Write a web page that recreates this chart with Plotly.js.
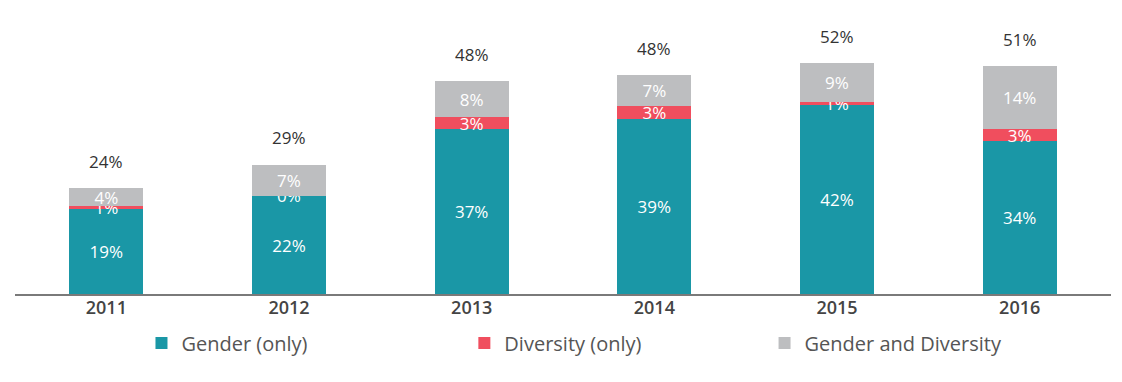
<!DOCTYPE html>
<html>
<head>
<meta charset="utf-8">
<script src="https://cdn.plot.ly/plotly-3.0.1.min.js"></script>
<style>html,body{margin:0;padding:0;background:#fff;}#chart{width:1122px;height:382px;}</style>
</head>
<body>
<div id="chart"></div>
<script>
var years = ['2011', '2012', '2013', '2014', '2015', '2016'];
var genderOnly = [19, 21.8, 36.7, 39, 42, 34];
var diversityOnly = [0.5, 0.1, 2.7, 2.8, 0.7, 2.7];
var genderAndDiversity = [4, 6.9, 8, 6.9, 8.7, 14];
var genderLabels = ['19%', '22%', '37%', '39%', '42%', '34%'];
var diversityLabels = ['1%', '0%', '3%', '3%', '1%', '3%'];
var bothLabels = ['4%', '7%', '8%', '7%', '9%', '14%'];
var totalLabels = ['24%', '29%', '48%', '48%', '52%', '51%'];

var FONT = 'Open Sans, Lato, sans-serif';
function barTrace(name, vals, labels, color, legendId) {
  return {
    type: 'bar', name: name, x: years, y: vals, text: labels,
    textposition: 'inside', insidetextanchor: 'middle', textangle: 0,
    constraintext: 'none', cliponaxis: false,
    textfont: {family: FONT, size: 17, color: '#ffffff'},
    marker: {color: color, line: {width: 0}},
    legend: legendId,
    hoverinfo: 'x+y+name'
  };
}
var traces = [
  barTrace('Gender (only)', genderOnly, genderLabels, '#1A97A6', 'legend'),
  barTrace('Diversity (only)', diversityOnly, diversityLabels, '#F04E5E', 'legend2'),
  barTrace('Gender and Diversity', genderAndDiversity, bothLabels, '#BDBEC0', 'legend3')
];
var annotations = years.map(function (yr, i) {
  return {
    x: i, y: genderOnly[i] + diversityOnly[i] + genderAndDiversity[i],
    xref: 'x', yref: 'y',
    text: totalLabels[i], showarrow: false, yshift: 27,
    font: {family: FONT, size: 17, color: '#333333'}
  };
});
function leg(x) {
  return {
    orientation: 'h', x: x, xanchor: 'left', y: -0.168, yanchor: 'middle',
    bgcolor: 'rgba(0,0,0,0)',
    font: {family: FONT, size: 20, color: '#555555'}
  };
}
var layout = {
  width: 1122, height: 382,
  margin: {l: 15, r: 11, t: 2, b: 88},
  barmode: 'stack', bargap: 0.595,
  paper_bgcolor: '#ffffff', plot_bgcolor: '#ffffff',
  font: {family: FONT},
  xaxis: {
    type: 'category', range: [-0.5, 5.5],
    showline: true, linecolor: '#7a7a7a', linewidth: 1.5,
    ticks: '', showgrid: false, zeroline: false, ticklabelstandoff: -3,
    tickfont: {family: FONT, size: 18, color: '#444444', weight: 600}
  },
  yaxis: {range: [0, 65], visible: false, showgrid: false, zeroline: false},
  showlegend: true,
  legend: leg(0.1154),
  legend2: leg(0.410),
  legend3: leg(0.6839),
  annotations: annotations
};
Plotly.newPlot('chart', traces, layout, {displayModeBar: false, staticPlot: true});
</script>
</body>
</html>
